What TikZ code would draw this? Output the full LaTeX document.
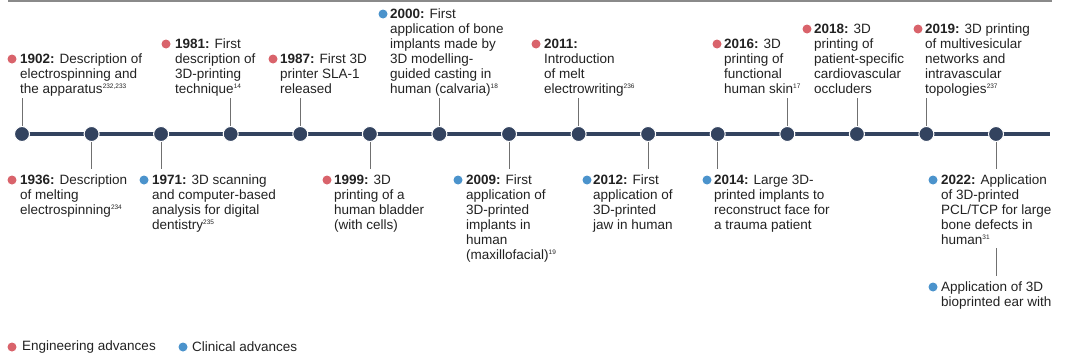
\documentclass[tikz,border=0pt]{standalone}
\usepackage{fontspec}
\setmainfont{Liberation Sans}
\definecolor{eng}{HTML}{D9636B}
\definecolor{clin}{HTML}{4B93CC}
\definecolor{navy}{HTML}{33435F}
\definecolor{conng}{HTML}{707070}
\definecolor{textc}{HTML}{222222}
\definecolor{rulec}{HTML}{8A8A8A}
\newcommand{\refn}[1]{\raisebox{4.5pt}{\fontsize{6.5}{6.5}\selectfont #1}}
\begin{document}
\begin{tikzpicture}[x=1pt,y=-1pt,
  txt/.style={anchor=north west, inner sep=0pt, align=left, font=\fontsize{13.5}{15}\selectfont, text=textc},
  legtxt/.style={anchor=west, inner sep=0pt, font=\fontsize{13.5}{15}\selectfont, text=textc},
  edot/.style={circle, fill=eng, inner sep=0pt, minimum size=9pt},
  cdot/.style={circle, fill=clin, inner sep=0pt, minimum size=9pt},
  tdot/.style={circle, fill=navy, draw=white, line width=1pt, inner sep=0pt, minimum size=15pt},
  timeline/.style={draw=navy, line width=4pt},
  conn/.style={draw=conng, line width=0.8pt}]
\useasboundingbox (0,0) rectangle (1080,364);
% top rule
\coordinate (r1) at (8,1);
\coordinate (r2) at (1052,1);
\draw[rulec, line width=1.5pt] (r1) -- (r2);
% timeline
\coordinate (ts) at (22,134);
\coordinate (te) at (1050,134);
\draw[timeline] (ts) -- (te);
\foreach \i/\x in {1/22,2/91.6,3/161.1,4/230.7,5/300.3,6/369.9,7/439.4,8/509,9/578.6,10/648.1,11/717.7,12/787.3,13/856.9,14/926.4,15/996}
  \node[tdot] (d\i) at (\x,134) {};

% upper events
\node[edot] (b1902) at (12,59) {};
\node[txt] (t1902) at (20,53.5) {\textbf{1902:} Description of\\electrospinning and\\the apparatus\refn{232,233}};
\node[edot] (b1981) at (166,44) {};
\node[txt] (t1981) at (175,38.5) {\textbf{1981:} First\\description of\\3D-printing\\technique\refn{14}};
\node[edot] (b1987) at (273,59) {};
\node[txt] (t1987) at (280,53.5) {\textbf{1987:} First 3D\\printer SLA-1\\released};
\node[cdot] (b2000) at (383,14) {};
\node[txt] (t2000) at (390,8.5) {\textbf{2000:} First\\application of bone\\implants made by\\3D modelling-\\guided casting in\\human (calvaria)\refn{18}};
\node[edot] (b2011) at (536,44) {};
\node[txt] (t2011) at (544,38.5) {\textbf{2011:}\\Introduction\\of melt\\electrowriting\refn{236}};
\node[edot] (b2016) at (717,44) {};
\node[txt] (t2016) at (724,38.5) {\textbf{2016:} 3D\\printing of\\functional\\human skin\refn{17}};
\node[edot] (b2018) at (807,29) {};
\node[txt] (t2018) at (814,23.5) {\textbf{2018:} 3D\\printing of\\patient-specific\\cardiovascular\\occluders};
\node[edot] (b2019) at (918,29) {};
\node[txt] (t2019) at (925,23.5) {\textbf{2019:} 3D printing\\of multivesicular\\networks and\\intravascular\\topologies\refn{237}};

% lower events
\node[edot] (b1936) at (12,180) {};
\node[txt] (t1936) at (20,174.5) {\textbf{1936:} Description\\of melting\\electrospinning\refn{234}};
\node[cdot] (b1971) at (144,180) {};
\node[txt] (t1971) at (152,174.5) {\textbf{1971:} 3D scanning\\and computer-based\\analysis for digital\\dentistry\refn{235}};
\node[edot] (b1999) at (327,180) {};
\node[txt] (t1999) at (334,174.5) {\textbf{1999:} 3D\\printing of a\\human bladder\\(with cells)};
\node[cdot] (b2009) at (458,180) {};
\node[txt] (t2009) at (466,174.5) {\textbf{2009:} First\\application of\\3D-printed\\implants in\\human\\(maxillofacial)\refn{19}};
\node[cdot] (b2012) at (587,180) {};
\node[txt] (t2012) at (593,174.5) {\textbf{2012:} First\\application of\\3D-printed\\jaw in human};
\node[cdot] (b2014) at (707,180) {};
\node[txt] (t2014) at (714,174.5) {\textbf{2014:} Large 3D-\\printed implants to\\reconstruct face for\\a trauma patient};
\node[cdot] (b2022) at (933,180) {};
\node[txt] (t2022) at (941,174.5) {\textbf{2022:} Application\\of 3D-printed\\PCL/TCP for large\\bone defects in\\human\refn{31}};
\node[cdot] (bapp) at (933,287) {};
\node[txt] (tapp) at (941,281.5) {Application of 3D\\bioprinted ear with};

% connectors
\foreach \i/\x in {1/22,4/230.7,5/300.3,7/439.4,9/578.6,12/787.3,13/856.9,14/926.4} {
  \coordinate (u\i) at (\x,98);
  \draw[conn] (u\i) -- (d\i);
}
\foreach \i/\x in {2/91.6,3/161.1,6/369.9,8/509,10/648.1,11/717.7,15/996} {
  \coordinate (l\i) at (\x,169);
  \draw[conn] (d\i) -- (l\i);
}
\coordinate (a1) at (996,248);
\coordinate (a2) at (996,276);
\draw[conn] (a1) -- (a2);

% legend
\node[edot] (le) at (12,347) {};
\node[legtxt] (lte) at (22,347) {Engineering advances};
\node[cdot] (lc) at (183,347) {};
\node[legtxt] (ltc) at (192,347) {Clinical advances};
\end{tikzpicture}
\end{document}
